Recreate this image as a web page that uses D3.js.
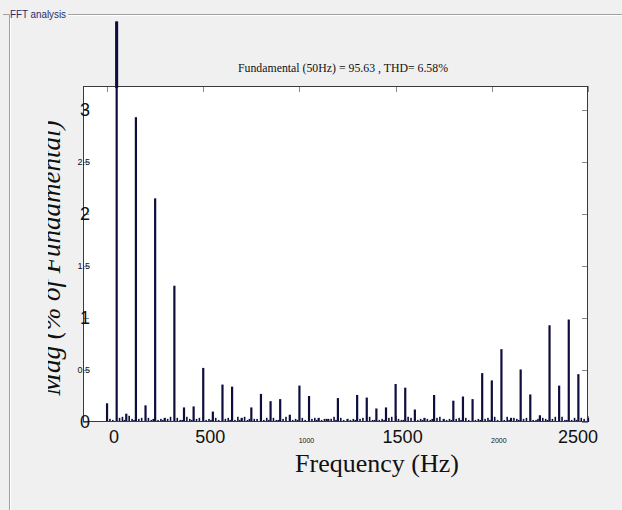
<!DOCTYPE html>
<html>
<head>
<meta charset="utf-8">
<script src="https://cdn.jsdelivr.net/npm/d3@7/dist/d3.min.js"></script>
<style>
  body { margin: 0; background: #f0f0f0; }
  svg { display: block; }
</style>
</head>
<body>
<div id="chart"></div>
<script>
// harmonic bins, every 50 Hz from DC to 2500 Hz
var harmonicFreqs = [0, 50, 100, 150, 200, 250, 300, 350, 400, 450,
    500, 550, 600, 650, 700, 750, 800, 850, 900, 950,
    1000, 1050, 1100, 1150, 1200, 1250, 1300, 1350, 1400, 1450,
    1500, 1550, 1600, 1650, 1700, 1750, 1800, 1850, 1900, 1950,
    2000, 2050, 2100, 2150, 2200, 2250, 2300, 2350, 2400, 2450, 2500];
var harmonicMags = [0.18, 3.85, 0.08, 2.93, 0.16, 2.15, 0.04, 1.31, 0.14, 0.15,
    0.52, 0.10, 0.36, 0.34, 0.04, 0.14, 0.27, 0.20, 0.22, 0.07,
    0.35, 0.25, 0.04, 0.03, 0.23, 0.03, 0.26, 0.235, 0.13, 0.14,
    0.365, 0.33, 0.12, 0.04, 0.26, 0.03, 0.205, 0.245, 0.22, 0.47,
    0.40, 0.70, 0.04, 0.505, 0.265, 0.065, 0.93, 0.35, 0.985, 0.46, 0.04];

// small interharmonic bins, 15, 30 and 40 Hz above each harmonic
var noiseLowMags = [0.03, 0.04, 0.06, 0.03, 0.04, 0.02, 0.03, 0.04, 0.05, 0.03,
    0.02, 0.04, 0.03, 0.02, 0.05, 0.03, 0.02, 0.04, 0.03, 0.02,
    0.04, 0.03, 0.02, 0.03, 0.04, 0.02, 0.03, 0.05, 0.02, 0.04,
    0.03, 0.05, 0.02, 0.03, 0.04, 0.02, 0.03, 0.04, 0.02, 0.03,
    0.05, 0.02, 0.04, 0.03, 0.02, 0.04, 0.03, 0.05, 0.02, 0.04];
var noiseMidMags = [0.02, 0.05, 0.03, 0.04, 0.02, 0.03, 0.05, 0.02, 0.03, 0.04,
    0.03, 0.02, 0.04, 0.05, 0.02, 0.03, 0.04, 0.02, 0.05, 0.03,
    0.02, 0.04, 0.03, 0.05, 0.02, 0.03, 0.04, 0.02, 0.03, 0.05,
    0.02, 0.04, 0.03, 0.02, 0.05, 0.03, 0.04, 0.02, 0.03, 0.04,
    0.02, 0.05, 0.03, 0.04, 0.02, 0.03, 0.05, 0.02, 0.04, 0.03];
var noiseHighMags = [0.01, 0.02, 0.02, 0.01, 0.03, 0.02, 0.01, 0.02, 0.02, 0.01,
    0.02, 0.01, 0.02, 0.02, 0.03, 0.01, 0.02, 0.02, 0.01, 0.02,
    0.01, 0.02, 0.03, 0.02, 0.01, 0.02, 0.01, 0.02, 0.02, 0.01,
    0.02, 0.01, 0.02, 0.03, 0.01, 0.02, 0.02, 0.01, 0.02, 0.02,
    0.01, 0.02, 0.02, 0.01, 0.03, 0.02, 0.01, 0.02, 0.02, 0.01];

var xTickValues = [0, 500, 1000, 1500, 2000, 2500];
var yTickValues = [0, 0.5, 1, 1.5, 2, 2.5, 3];

var titleText = "Fundamental (50Hz) = 95.63 , THD= 6.58%";
var panelTitle = "FFT analysis";

var width = 622,
    height = 510,
    plotLeft = 83,
    plotRight = 588,
    plotTop = 86,
    plotBottom = 422,
    barColor = "#0e0e3e";

var svg = d3.select("#chart").append("svg")
    .attr("width", width)
    .attr("height", height);

var x = d3.scaleLinear().domain([-125, 2500]).range([plotLeft, plotRight]);
var y = d3.scaleLinear().domain([0, 3.23]).range([plotBottom, plotTop]);

// y label first, the part left of x=48 gets covered (the original is cut off there)
svg.append("text")
    .attr("transform", "translate(60,258) rotate(-90)")
    .attr("text-anchor", "middle")
    .attr("font-family", "'Times New Roman', 'Liberation Serif', serif")
    .attr("font-style", "italic")
    .attr("font-size", 27)
    .attr("fill", "#111")
    .text("Mag (% of Fundamental)");

svg.append("rect")
    .attr("x", 12)
    .attr("y", 60)
    .attr("width", 36)
    .attr("height", 380)
    .attr("fill", "#f0f0f0");

// group box around the figure
var panel = svg.append("g");
panel.append("path")
    .attr("d", "M3,14.5H9.5V510 M68,14.5H622")
    .attr("fill", "none")
    .attr("stroke", "#a0a0a0");
panel.append("path")
    .attr("d", "M10.5,15.5V510 M68,15.5H622")
    .attr("fill", "none")
    .attr("stroke", "#ffffff");
panel.append("text")
    .attr("x", 10)
    .attr("y", 18)
    .attr("font-family", "Arial, 'Liberation Sans', sans-serif")
    .attr("font-size", 11)
    .attr("textLength", 56)
    .attr("lengthAdjust", "spacingAndGlyphs")
    .attr("fill", "#2b2b6b")
    .text(panelTitle);

// plot area
svg.append("rect")
    .attr("x", plotLeft)
    .attr("y", plotTop)
    .attr("width", plotRight - plotLeft)
    .attr("height", plotBottom - plotTop)
    .attr("fill", "#ffffff");

// inward ticks
var ticks = svg.append("g")
    .attr("stroke", "#8a8a8a")
    .attr("stroke-width", 1);
ticks.selectAll(".xt")
    .data(xTickValues)
    .enter().append("path")
    .attr("class", "xt")
    .attr("d", function(d) {
        var px = Math.round(x(d)) + 0.5;
        return "M" + px + "," + plotTop + "v6 M" + px + "," + plotBottom + "v-6";
    });
ticks.selectAll(".yt")
    .data(yTickValues)
    .enter().append("path")
    .attr("class", "yt")
    .attr("d", function(d) {
        var py = Math.round(y(d)) + 0.5;
        return "M" + plotLeft + "," + py + "h6 M" + plotRight + "," + py + "h-6";
    });

// interharmonic bars
var noiseData = [];
for (let i = 0; i < noiseLowMags.length; i++) {
    noiseData.push({ f: harmonicFreqs[i] + 15, v: noiseLowMags[i] });
    noiseData.push({ f: harmonicFreqs[i] + 30, v: noiseMidMags[i] });
    noiseData.push({ f: harmonicFreqs[i] + 40, v: noiseHighMags[i] });
}
svg.append("g").selectAll("rect")
    .data(noiseData)
    .enter().append("rect")
    .attr("x", function(d) { return x(d.f) - 0.8; })
    .attr("y", function(d) { return y(d.v); })
    .attr("width", 1.6)
    .attr("height", function(d) { return plotBottom - y(d.v); })
    .attr("fill", barColor);

// harmonic bars
svg.append("g").selectAll("rect")
    .data(harmonicFreqs)
    .enter().append("rect")
    .attr("x", function(d) { return x(d) - 1.1; })
    .attr("y", function(d, i) { return y(harmonicMags[i]); })
    .attr("width", 2.2)
    .attr("height", function(d, i) { return plotBottom - y(harmonicMags[i]); })
    .attr("fill", barColor);

// frame
svg.append("rect")
    .attr("x", plotLeft + 0.5)
    .attr("y", plotTop + 0.5)
    .attr("width", plotRight - plotLeft - 1)
    .attr("height", plotBottom - plotTop - 1)
    .attr("fill", "none")
    .attr("stroke", "#3a3a3a");

// fundamental runs on above the frame top
svg.append("rect")
    .attr("x", x(harmonicFreqs[1]) - 1.5)
    .attr("y", y(harmonicMags[1]))
    .attr("width", 3)
    .attr("height", plotTop + 2 - y(harmonicMags[1]))
    .attr("fill", barColor);

// tick labels
svg.append("g").selectAll("text")
    .data(xTickValues)
    .enter().append("text")
    .attr("x", function(d, i) { return i === xTickValues.length - 1 ? x(d) + 10 : x(d) + 7; })
    .attr("y", 443)
    .attr("text-anchor", function(d, i) { return i === xTickValues.length - 1 ? "end" : "middle"; })
    .attr("font-family", "Arial, 'Liberation Sans', sans-serif")
    .attr("font-size", function(d) { return (d > 0 && d % 1000 === 0) ? 7 : 18; })
    .attr("fill", "#111")
    .text(function(d) { return d; });

svg.append("g").selectAll("text")
    .data(yTickValues)
    .enter().append("text")
    .attr("x", 90)
    .attr("y", function(d) { return y(d); })
    .attr("dy", function(d) { return Number.isInteger(d) ? "0.36em" : "0.3em"; })
    .attr("text-anchor", "end")
    .attr("font-family", "Arial, 'Liberation Sans', sans-serif")
    .attr("font-size", function(d) { return Number.isInteger(d) ? 18 : 9; })
    .attr("fill", "#111")
    .text(function(d) { return d; });

// title and x label
svg.append("text")
    .attr("x", 343)
    .attr("y", 72)
    .attr("text-anchor", "middle")
    .attr("font-family", "'Times New Roman', 'Liberation Serif', serif")
    .attr("font-size", 13)
    .attr("textLength", 210)
    .attr("lengthAdjust", "spacingAndGlyphs")
    .attr("fill", "#111")
    .text(titleText);

svg.append("text")
    .attr("x", 377)
    .attr("y", 472)
    .attr("text-anchor", "middle")
    .attr("font-family", "'Times New Roman', 'Liberation Serif', serif")
    .attr("font-size", 26)
    .attr("fill", "#111")
    .text("Frequency (Hz)");
</script>
</body>
</html>
